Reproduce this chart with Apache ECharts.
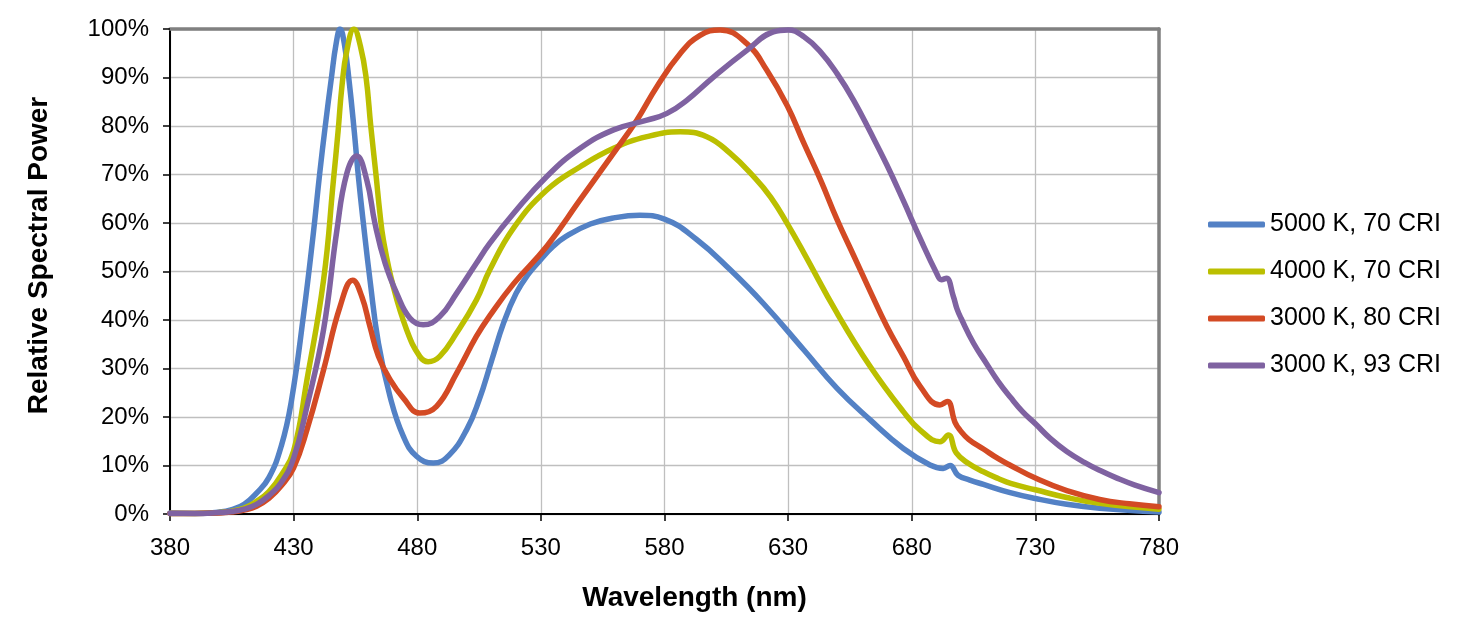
<!DOCTYPE html>
<html>
<head>
<meta charset="utf-8">
<script src="https://cdn.jsdelivr.net/npm/echarts@6/dist/echarts.min.js"></script>
<style>
html,body{margin:0;padding:0;background:#fff;}
#chart{width:1474px;height:636px;}
</style>
</head>
<body>
<div id="chart"></div>
<script>
// Legend / series names
const seriesNames = ['5000 K, 70 CRI', '4000 K, 70 CRI', '3000 K, 80 CRI', '3000 K, 93 CRI'];

// [wavelength nm, relative power %]
const cct5000cri70 = [[380,0.2],[390,0.1],[400,0.4],[405,0.9],[410,2.0],[415,4.3],[420,7.5],[425,14],[429,23],[434,41],[438,58],[440.5,70],[442.8,80],[445.3,90],[447.2,97],[448.8,100],[450.5,97],[452.5,89],[454.5,79],[456.3,69],[458.2,60],[460.9,48.2],[464.3,35.2],[469,24.2],[474.4,16],[479.7,11.9],[486.5,10.5],[493,12.2],[500,17.4],[505,23.5],[510,31.5],[515,39.5],[520,45.5],[525,49.5],[530,52.5],[535,55.2],[540,57.2],[550,59.8],[560,61.1],[570,61.6],[580,60.8],[593,56.6],[606.5,50.4],[620,43.4],[636.4,33.8],[649.8,25.9],[663.2,19.4],[676.6,13.5],[687.4,10.1],[692.7,9.4],[695.5,10],[698.7,8],[703.5,7],[709,6.1],[719.8,4.4],[730,3.2],[742.7,2],[756,1.2],[780,0.4]];

const cct4000cri70 = [[380,0.1],[390,0.1],[400,0.3],[405,0.6],[410,1.2],[415,2.6],[420,4.6],[425,8],[430,13],[435.4,27.7],[442.1,48.2],[446.1,68.8],[448,79],[449.5,88],[451.5,95.5],[454.4,100],[457,96.5],[459.3,90],[461.2,80],[463.3,70],[464.9,62],[466.3,56.5],[470.3,46.9],[475.7,38],[481,32.5],[484.4,31.4],[489.1,32.5],[495.9,37.3],[503.9,44.1],[509.3,50.3],[519,59],[532.4,66.8],[545.9,71.6],[559.4,75.4],[572.9,77.8],[586.3,78.8],[597.1,77.8],[606.5,74.4],[616,69.6],[623,65.3],[629.7,59.8],[636.4,53.8],[649.8,41.4],[663.2,30.4],[676.6,21.1],[683.4,17.3],[691.4,14.9],[694.8,16.3],[698,12.6],[703,10.4],[709,8.7],[715,7.3],[720,6.3],[730,5.0],[742.7,3.4],[756,2.2],[780,1.0]];

const cct3000cri80 = [[380,0.1],[390,0.1],[400,0.2],[405,0.4],[410,0.8],[415,1.6],[420,3.2],[425,5.8],[430,9.5],[435.4,17.4],[442.1,29.7],[448.8,42.8],[453.9,48.2],[457.6,44.8],[460.9,38.6],[464.3,32.5],[469,27.7],[474.4,23.9],[481,20.8],[487.8,22.2],[495.9,29],[503.9,36.6],[509.5,41],[519,47.5],[532.4,55.2],[545.9,64.8],[559.4,74.4],[568.8,81.2],[576.9,88.1],[586.3,94.9],[594.4,98.7],[602.5,99.8],[613.3,97],[621.4,91.5],[629.7,84.1],[636.4,76.4],[643.1,68.9],[649.8,60.7],[656.5,53.3],[663.2,45.9],[669.9,38.7],[676.6,32.5],[683.4,26.3],[691.4,22.5],[694.4,23.2],[697.5,18.9],[699.5,17.3],[703,15.4],[709,13.4],[715,11.4],[720,10.0],[730,7.4],[742.7,4.8],[756,3.0],[768,2.1],[780,1.5]];

const cct3000cri93 = [[380,0.1],[390,0.1],[400,0.3],[405,0.5],[410,1],[415,2],[420,3.8],[425,6.5],[430,11.5],[435.4,22.2],[442.1,38],[447.5,58.5],[451.5,70.2],[455.5,73.8],[459.6,68.8],[462.9,59.9],[467,51.7],[471.7,45.5],[477,40.4],[482.4,39],[489.1,40.7],[495.9,45.5],[503.9,51.7],[509.3,55.8],[519,62],[532.4,69.6],[545.9,75.4],[559.4,79.2],[572.9,81.2],[581,82.6],[589,85.3],[599.8,90.1],[613.3,95.6],[624,99.4],[630,99.8],[636.4,98.4],[643.1,95.3],[649.8,90.8],[656.5,85.3],[663.2,78.8],[669.9,72.0],[676.6,64.6],[683.4,56.8],[690,49.7],[692,48.3],[694,48.6],[696.8,44.9],[698.3,42.3],[700,40.3],[705,35.2],[710,31.2],[715,27.3],[720,24.0],[725,21.0],[730,18.6],[736,15.6],[742.7,12.9],[750,10.6],[756,9.0],[763,7.4],[770,6.0],[780,4.4]];

const seriesData = [cct5000cri70, cct4000cri70, cct3000cri80, cct3000cri93];
const seriesColors = ['#5381C5', '#BBBF00', '#D34A24', '#7F62A1'];

const xTitle = 'Wavelength (nm)';
const yTitle = 'Relative Spectral Power';

const chart = echarts.init(document.getElementById('chart'), null, {renderer: 'canvas'});
const FONT = 'Liberation Sans';

const option = {
  animation: false,
  backgroundColor: '#ffffff',
  grid: {left: 170, right: 315, top: 29, bottom: 122, containLabel: false},
  legend: {
    orient: 'vertical',
    left: 1203,
    top: 207,
    icon: 'roundRect',
    itemWidth: 57,
    itemHeight: 6,
    itemGap: 22,
    textStyle: {fontFamily: FONT, fontSize: 25, color: '#000'},
    data: seriesNames
  },
  xAxis: [{
    type: 'value', min: 380, max: 780, interval: 50,
    name: xTitle, nameLocation: 'middle', nameGap: 70,
    nameTextStyle: {fontFamily: FONT, fontSize: 28, fontWeight: 'bold', color: '#000', padding: [0,0,0,60]},
    axisLine: {show: true, onZero: false, lineStyle: {color: '#000', width: 2}},
    axisTick: {show: true, length: 7, lineStyle: {color: '#000', width: 1.5}},
    axisLabel: {fontFamily: FONT, fontSize: 24, color: '#000', margin: 22, showMinLabel: true, showMaxLabel: true},
    splitLine: {show: true, lineStyle: {color: '#BFBFBF', width: 1.3}}
  }, {
    type: 'value', min: 380, max: 780, position: 'top',
    axisLine: {show: true, onZero: false, lineStyle: {color: '#808080', width: 3.5}},
    axisTick: {show: false}, axisLabel: {show: false}, splitLine: {show: false}
  }],
  yAxis: [{
    type: 'value', min: 0, max: 100, interval: 10,
    name: yTitle, nameLocation: 'middle', nameGap: 117, nameRotate: 90,
    nameTextStyle: {fontFamily: FONT, fontSize: 28, fontWeight: 'bold', color: '#000', padding: [0,0,0,32]},
    axisLine: {show: true, onZero: false, lineStyle: {color: '#000', width: 2}},
    axisTick: {show: true, length: 7, lineStyle: {color: '#000', width: 1.5}},
    axisLabel: {fontFamily: FONT, fontSize: 24, color: '#000', margin: 21, formatter: '{value}%'},
    splitLine: {show: true, lineStyle: {color: '#BFBFBF', width: 1.3}}
  }, {
    type: 'value', min: 0, max: 100, position: 'right',
    axisLine: {show: true, onZero: false, lineStyle: {color: '#808080', width: 3.5}},
    axisTick: {show: false}, axisLabel: {show: false}, splitLine: {show: false}
  }],
  series: seriesNames.map((n, i) => ({
    name: n,
    type: 'line',
    data: seriesData[i],
    xAxisIndex: 0,
    yAxisIndex: 0,
    showSymbol: false,
    symbol: 'none',
    smooth: 0.45,
    color: seriesColors[i],
    lineStyle: {width: 5.5, color: seriesColors[i], cap: 'round', join: 'round'},
    z: 3 + i
  }))
};
chart.setOption(option);
</script>
</body>
</html>
